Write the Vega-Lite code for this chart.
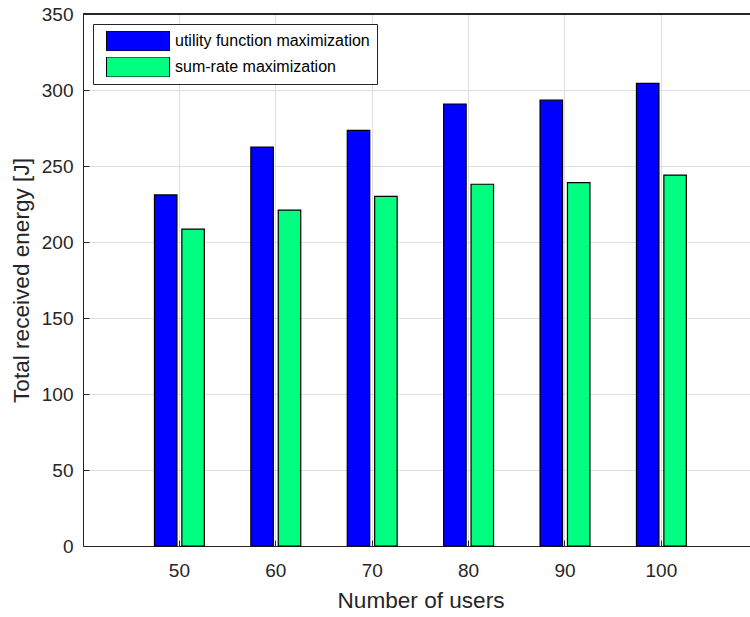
{
  "$schema": "https://vega.github.io/schema/vega-lite/v6.json",
  "width": 667,
  "height": 532,
  "autosize": {"type": "none"},
  "padding": {"left": 83, "top": 14, "right": 0, "bottom": 71},
  "background": "white",
  "config": {
    "font": "Liberation Sans",
    "view": {"stroke": null},
    "axis": {
      "domainColor": "#262626",
      "domainWidth": 1,
      "tickColor": "#262626",
      "labelColor": "#262626",
      "labelFontSize": 19,
      "titleColor": "#262626",
      "titleFontSize": 22.6,
      "titleFontWeight": "normal",
      "gridColor": "#dfdfdf",
      "gridWidth": 1
    }
  },
  "data": {
    "values": [
      {"users": 50, "method": "utility function maximization", "energy": 231},
      {"users": 50, "method": "sum-rate maximization", "energy": 208.5},
      {"users": 60, "method": "utility function maximization", "energy": 262.5},
      {"users": 60, "method": "sum-rate maximization", "energy": 221},
      {"users": 70, "method": "utility function maximization", "energy": 273.5},
      {"users": 70, "method": "sum-rate maximization", "energy": 230},
      {"users": 80, "method": "utility function maximization", "energy": 290.8},
      {"users": 80, "method": "sum-rate maximization", "energy": 238},
      {"users": 90, "method": "utility function maximization", "energy": 293.3},
      {"users": 90, "method": "sum-rate maximization", "energy": 239},
      {"users": 100, "method": "utility function maximization", "energy": 304.3},
      {"users": 100, "method": "sum-rate maximization", "energy": 244}
    ]
  },
  "layer": [
    {
      "mark": {"type": "bar", "stroke": "black", "strokeWidth": 1.2},
      "encoding": {
        "x": {
          "field": "users",
          "type": "ordinal",
          "scale": {"domain": [50, 60, 70, 80, 90, 100], "paddingInner": 0, "paddingOuter": 0.4595, "align": 0.544},
          "axis": {
            "title": "Number of users",
            "labelAngle": 0,
            "bandPosition": 0.5,
            "grid": true,
            "tickSize": -6,
            "labelPadding": 21,
            "titlePadding": 9,
            "titleX": 337.5
          }
        },
        "xOffset": {
          "field": "method",
          "type": "nominal",
          "scale": {
            "domain": ["utility function maximization", "sum-rate maximization"],
            "paddingInner": 0.179,
            "paddingOuter": 0.849
          }
        },
        "y": {
          "field": "energy",
          "type": "quantitative",
          "scale": {"domain": [0, 350]},
          "axis": {
            "title": "Total received energy [J]",
            "values": [0, 50, 100, 150, 200, 250, 300, 350],
            "grid": true,
            "tickSize": -6,
            "labelPadding": 16,
            "titleX": -55,
            "titleY": 266,
            "titleBaseline": "alphabetic"
          }
        },
        "color": {
          "field": "method",
          "type": "nominal",
          "scale": {
            "domain": ["utility function maximization", "sum-rate maximization"],
            "range": ["#0000ff", "#00ff80"]
          },
          "legend": {
            "title": null,
            "orient": "none",
            "legendX": 10,
            "legendY": 10,
            "fillColor": "white",
            "strokeColor": "#262626",
            "padding": 7,
            "symbolType": "M-1,-0.3175H1V0.3175H-1Z",
            "symbolSize": 3969,
            "symbolStrokeColor": "black",
            "symbolStrokeWidth": 1,
            "symbolOpacity": 1,
            "symbolOffset": 6,
            "clipHeight": 20,
            "rowPadding": 6,
            "labelFontSize": 16,
            "labelColor": "black",
            "labelOffset": 5,
            "labelLimit": 400
          }
        }
      }
    },
    {
      "mark": {"type": "rule", "color": "#262626", "strokeWidth": 1},
      "encoding": {
        "y": {"datum": 350, "type": "quantitative"}
      }
    }
  ]
}
